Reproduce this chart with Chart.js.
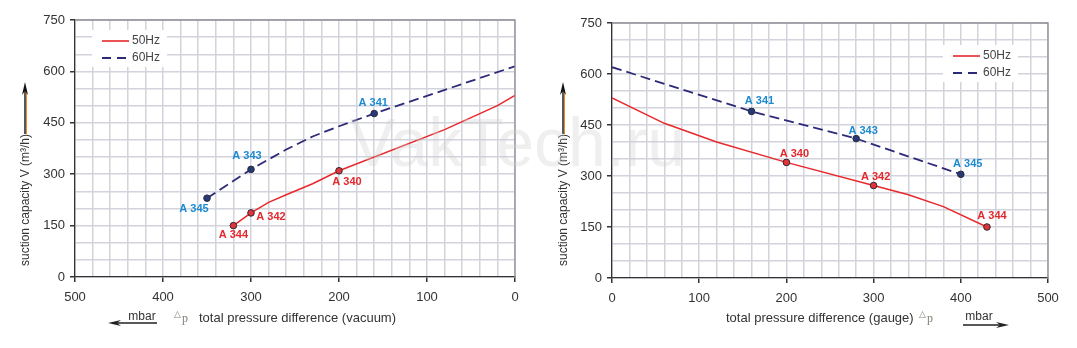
<!DOCTYPE html>
<html>
<head>
<meta charset="utf-8">
<script src="https://cdn.jsdelivr.net/npm/chart.js@4.4.1/dist/chart.umd.min.js"></script>
<style>
    body { margin: 0; background: #fff; width: 1077px; height: 348px; position: relative; overflow: hidden; font-family: "Liberation Sans", Arial, sans-serif; }
    #graficoVacuo { position: absolute; left: 0; top: 0; }
    #graficoPressao { position: absolute; left: 540px; top: 0; }
    .marca { position: absolute; left: 350px; top: 109px; font-size: 68px; line-height: 66px; color: rgba(205, 205, 205, 0.32); pointer-events: none; white-space: nowrap; }
</style>
</head>
<body>
<canvas id="graficoVacuo" width="540" height="348"></canvas>
<canvas id="graficoPressao" width="537" height="348"></canvas>
<div class="marca">VakTech.ru</div>
<script>
// vacuum side: pressure difference (mbar) against suction capacity (m³/h)
const vacP50 = [320, 300, 280, 260, 230, 200, 80, 20, 0];
const vacV50 = [150, 187, 218, 240, 272, 310, 430, 500, 530];
const vacNames50 = ['A 344', 'A 342', '', '', '', 'A 340', '', '', ''];
const vacP60 = [350, 300, 260, 230, 200, 160, 0];
const vacV60 = [230, 314, 372, 410, 440, 477, 615];
const vacNames60 = ['A 345', 'A 343', '', '', '', 'A 341', ''];

// pressure side (gauge)
const gaugeP50 = [0, 60, 120, 200, 300, 340, 380, 430];
const gaugeV50 = [530, 455, 400, 340, 272, 245, 210, 150];
const gaugeNames50 = ['', '', '', 'A 340', 'A 342', '', '', 'A 344'];
const gaugeP60 = [0, 160, 280, 400];
const gaugeV60 = [620, 490, 410, 305];
const gaugeNames60 = ['', 'A 341', 'A 343', 'A 345'];

const pressureTicks = [0, 100, 200, 300, 400, 500];
const capacityTicks = [0, 150, 300, 450, 600, 750];
const seriesNames = ['50Hz', '60Hz'];

const RED = '#e8282b';
const NAVY = '#2d2a78';
const RED_TXT = '#e3292e';
const BLUE_TXT = '#1b8ad0';
const GRID = '#d2d3dc';
const FONT = '"Liberation Sans", Arial, sans-serif';

function serie(label, px, vy, names, cor, dash, marker) {
    return {
        label: label,
        data: px.map(function (x, i) { return { x: x, y: vy[i] }; }),
        names: names,
        showLine: true,
        borderColor: cor,
        borderWidth: dash ? 1.8 : 1.5,
        borderDash: dash || [],
        tension: 0,
        pointRadius: function (ctx) { return names[ctx.dataIndex] ? 3.3 : 0; },
        pointBackgroundColor: marker,
        pointBorderColor: '#2a2a3a',
        pointBorderWidth: 1,
        pointHoverRadius: 0
    };
}

// point names next to the markers
const nomes = {
    id: 'nomes',
    afterDatasetsDraw(chart, args, o) {
        const c = chart.ctx;
        c.save();
        c.font = 'bold 11px ' + FONT;
        c.textAlign = 'center';
        c.textBaseline = 'middle';
        chart.data.datasets.forEach(function (ds, d) {
            const meta = chart.getDatasetMeta(d);
            ds.names.forEach(function (n, i) {
                if (!n) return;
                const el = meta.data[i];
                const off = o.offsets[n];
                c.fillStyle = d === 0 ? RED_TXT : BLUE_TXT;
                c.fillText(n, el.x + off[0], el.y + off[1]);
            });
        });
        c.restore();
    }
};

function seta(c, x1, y1, x2, y2) {
    // line with a slim arrow head at (x2, y2)
    const ang = Math.atan2(y2 - y1, x2 - x1);
    const L = 13, h = 3;
    c.beginPath();
    c.moveTo(x1, y1);
    c.lineTo(x2 - Math.cos(ang) * 6, y2 - Math.sin(ang) * 6);
    c.stroke();
    c.beginPath();
    c.moveTo(x2, y2);
    c.lineTo(x2 - Math.cos(ang) * L - Math.sin(ang) * h, y2 - Math.sin(ang) * L + Math.cos(ang) * h);
    c.lineTo(x2 - Math.cos(ang) * (L - 4), y2 - Math.sin(ang) * (L - 4));
    c.lineTo(x2 - Math.cos(ang) * L + Math.sin(ang) * h, y2 - Math.sin(ang) * L - Math.cos(ang) * h);
    c.closePath();
    c.fill();
}

const moldura = {
    id: 'moldura',
    afterDraw(chart, args, o) {
        const c = chart.ctx, a = chart.chartArea;
        c.save();
        // top and right edge of the grid
        c.strokeStyle = '#8e8e96';
        c.lineWidth = 1.3;
        c.beginPath();
        c.moveTo(a.left, a.top);
        c.lineTo(a.right, a.top);
        c.lineTo(a.right, a.bottom);
        c.stroke();

        // legend
        const lg = o.legend;
        c.fillStyle = '#fff';
        c.fillRect(lg.x - 10, lg.y - 11, 75, 37);
        c.lineWidth = 1.6;
        c.strokeStyle = RED;
        c.beginPath(); c.moveTo(lg.x, lg.y); c.lineTo(lg.x + 27, lg.y); c.stroke();
        c.strokeStyle = NAVY;
        c.lineWidth = 2;
        c.setLineDash([9, 6]);
        c.beginPath(); c.moveTo(lg.x, lg.y + 17); c.lineTo(lg.x + 27, lg.y + 17); c.stroke();
        c.setLineDash([]);
        c.fillStyle = '#444';
        c.font = '12px ' + FONT;
        c.textBaseline = 'middle';
        c.textAlign = 'left';
        c.fillText(seriesNames[0], lg.x + 30, lg.y);
        c.fillText(seriesNames[1], lg.x + 30, lg.y + 17);

        // y axis title with arrow
        c.save();
        c.translate(o.yTitleX + 1, 200);
        c.rotate(-Math.PI / 2);
        c.fillStyle = '#333';
        c.font = '12px ' + FONT;
        c.textAlign = 'center';
        c.fillText('suction capacity V (m³/h)', 0, 0);
        c.restore();
        c.lineWidth = 1;
        c.strokeStyle = '#e8892b';
        c.beginPath(); c.moveTo(o.yTitleX + 1.5, 134); c.lineTo(o.yTitleX + 1.5, 90); c.stroke();
        c.lineWidth = 1.4;
        c.strokeStyle = '#111';
        c.fillStyle = '#111';
        seta(c, o.yTitleX, 134, o.yTitleX, 82);

        // x axis title, delta p and mbar arrow
        c.fillStyle = '#333';
        c.font = '13px ' + FONT;
        c.textAlign = 'left';
        c.fillText(o.xTitle, o.xTitleX, 318);
        c.fillStyle = '#7b8574';
        c.font = '9px "DejaVu Sans", sans-serif';
        c.fillText('△', o.deltaX, 315);
        c.font = '12px "Liberation Serif", serif';
        c.fillText('p', o.deltaX + 8, 319);
        c.fillStyle = '#333';
        c.font = '12px ' + FONT;
        c.textAlign = 'center';
        c.fillText('mbar', o.mbar.x, 317);
        c.strokeStyle = '#222';
        c.fillStyle = '#222';
        c.lineWidth = 1.3;
        seta(c, o.mbar.from, o.mbar.y, o.mbar.to, o.mbar.y);
        c.restore();
    }
};

function eixos(reverse, yWidth, xHeight) {
    return {
        x: {
            type: 'linear',
            min: 0,
            max: 500,
            reverse: reverse,
            afterFit: function (s) { s.height = xHeight; },
            ticks: {
                stepSize: 20,
                autoSkip: false,
                maxRotation: 0,
                padding: 8,
                color: '#333',
                font: { family: FONT, size: 13 },
                callback: function (v) { return pressureTicks.includes(v) ? v : ''; }
            },
            grid: {
                color: GRID,
                lineWidth: 1.5,
                tickLength: 5,
                tickColor: function (ctx) { return ctx.tick && pressureTicks.includes(ctx.tick.value) ? '#333' : 'rgba(0,0,0,0)'; }
            },
            border: { color: '#333', width: 1.3 }
        },
        y: {
            type: 'linear',
            min: 0,
            max: 750,
            afterFit: function (s) { s.width = yWidth; },
            ticks: {
                stepSize: 50,
                autoSkip: false,
                padding: 5,
                color: '#333',
                font: { family: FONT, size: 13 },
                callback: function (v) { return capacityTicks.includes(v) ? v : ''; }
            },
            grid: {
                color: GRID,
                lineWidth: 1.5,
                tickLength: 5,
                tickColor: function (ctx) { return ctx.tick && capacityTicks.includes(ctx.tick.value) ? '#333' : 'rgba(0,0,0,0)'; }
            },
            border: { color: '#333', width: 1.3 }
        }
    };
}

window.onload = function () {
    const ctxVacuo = document.getElementById('graficoVacuo').getContext('2d');
    const graficoVacuo = new Chart(ctxVacuo, {
        type: 'scatter',
        data: {
            datasets: [
                serie(seriesNames[0], vacP50, vacV50, vacNames50, RED, null, '#e53236'),
                serie(seriesNames[1], vacP60, vacV60, vacNames60, NAVY, [10, 5], '#263a78')
            ]
        },
        options: {
            responsive: false,
            animation: false,
            layout: { padding: { left: 0, top: 20, right: 25, bottom: 0 } },
            scales: eixos(true, 75, 71),
            plugins: {
                legend: { display: false },
                tooltip: { enabled: false },
                nomes: {
                    offsets: {
                        'A 344': [0, 9], 'A 342': [20, 4], 'A 340': [8, 11],
                        'A 345': [-13, 11], 'A 343': [-4, -13], 'A 341': [-1, -11]
                    }
                },
                moldura: {
                    legend: { x: 102, y: 41 },
                    yTitleX: 25,
                    xTitle: 'total pressure difference (vacuum)',
                    xTitleX: 199,
                    deltaX: 174,
                    mbar: { x: 142, from: 157, to: 108, y: 323 }
                }
            }
        },
        plugins: [nomes, moldura]
    });

    const ctxPressao = document.getElementById('graficoPressao').getContext('2d');
    const graficoPressao = new Chart(ctxPressao, {
        type: 'scatter',
        data: {
            datasets: [
                serie(seriesNames[0], gaugeP50, gaugeV50, gaugeNames50, RED, null, '#e53236'),
                serie(seriesNames[1], gaugeP60, gaugeV60, gaugeNames60, NAVY, [10, 5], '#263a78')
            ]
        },
        options: {
            responsive: false,
            animation: false,
            layout: { padding: { left: 0, top: 23, right: 29, bottom: 0 } },
            scales: eixos(false, 72, 70),
            plugins: {
                legend: { display: false },
                tooltip: { enabled: false },
                nomes: {
                    offsets: {
                        'A 341': [8, -10], 'A 340': [8, -8], 'A 343': [7, -8],
                        'A 345': [7, -10], 'A 342': [2, -9], 'A 344': [5, -11]
                    }
                },
                moldura: {
                    legend: { x: 413, y: 56 },
                    yTitleX: 23,
                    xTitle: 'total pressure difference (gauge)',
                    xTitleX: 186,
                    deltaX: 379,
                    mbar: { x: 439, from: 423, to: 469, y: 325 }
                }
            }
        },
        plugins: [nomes, moldura]
    });
};
</script>
</body>
</html>
